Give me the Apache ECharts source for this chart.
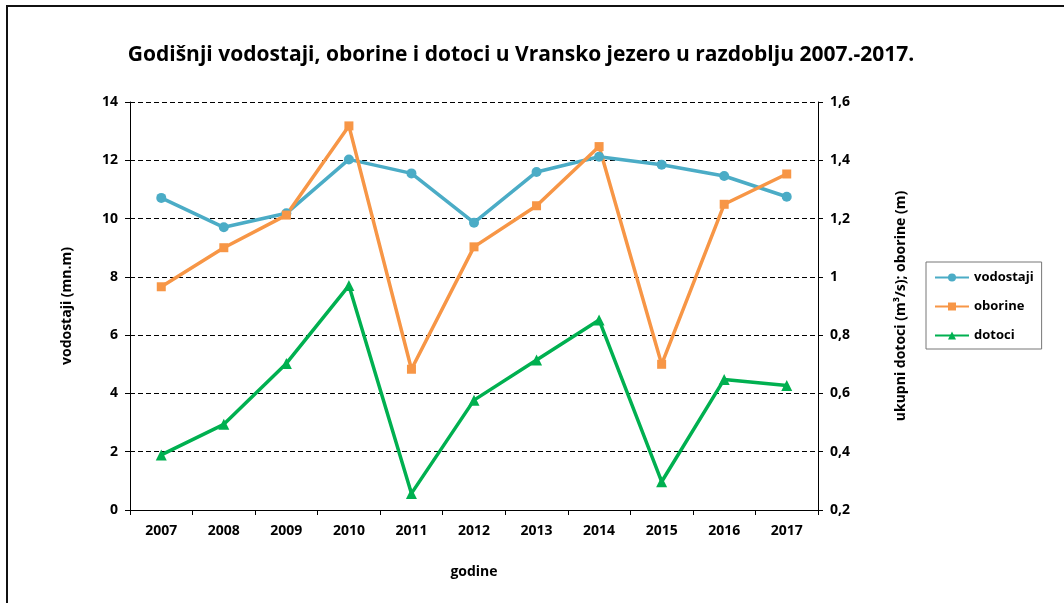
<!DOCTYPE html>
<html>
<head>
<meta charset="utf-8">
<script src="https://cdn.jsdelivr.net/npm/echarts@6/dist/echarts.min.js"></script>
<style>
  html, body { margin: 0; padding: 0; background: #fff; overflow: hidden; }
  #frame { position: absolute; left: 6px; top: 5px; width: 1200px; height: 800px; border: 2px solid #111; }
  #chart { position: absolute; left: 0; top: 0; width: 1064px; height: 603px; }
</style>
</head>
<body>
<div id="frame"></div>
<div id="chart"></div>
<script>
const years = ["2007", "2008", "2009", "2010", "2011", "2012", "2013", "2014", "2015", "2016", "2017"];
const vodostaji = [10.71, 9.70, 10.18, 12.03, 11.55, 9.86, 11.60, 12.12, 11.85, 11.46, 10.75];
const oborine = [0.966, 1.10, 1.212, 1.518, 0.683, 1.103, 1.244, 1.447, 0.70, 1.249, 1.353];
const dotoci = [0.389, 0.494, 0.703, 0.970, 0.257, 0.577, 0.715, 0.852, 0.297, 0.648, 0.627];

const font = "'Open Sans', 'Liberation Sans', sans-serif";
const axisText = { color: "#000", fontSize: 14, fontWeight: "bold", fontFamily: font };

const chart = echarts.init(document.getElementById("chart"), null, { renderer: "canvas" });
chart.setOption({
  animation: false,
  title: {
    text: "Godišnji vodostaji, oborine i dotoci u Vransko jezero u razdoblju 2007.-2017.",
    left: 516,
    textAlign: "center",
    top: 40,
    textStyle: { color: "#000", fontSize: 21, fontWeight: "bold", fontFamily: font },
  },
  legend: {
    orient: "vertical",
    left: 926,
    top: 262,
    padding: [9, 8, 7, 8],
    itemGap: 16,
    itemWidth: 34,
    itemHeight: 10,
    borderColor: "#777",
    borderWidth: 1,
    textStyle: { color: "#000", fontSize: 13, fontWeight: "bold", fontFamily: font },
    data: ["vodostaji", "oborine", "dotoci"],
  },
  grid: { left: 130, right: 246, top: 102, bottom: 93 },
  xAxis: {
    type: "category",
    data: years,
    name: "godine",
    nameLocation: "middle",
    nameGap: 55,
    nameTextStyle: axisText,
    axisLine: { lineStyle: { color: "#000", width: 1 } },
    axisTick: { show: true, length: 5, lineStyle: { color: "#000" } },
    axisLabel: { ...axisText, margin: 14 },
  },
  yAxis: [
    {
      type: "value",
      min: 0,
      max: 14,
      interval: 2,
      name: "vodostaji (mn.m)",
      nameLocation: "middle",
      nameGap: 56,
      nameTextStyle: axisText,
      axisLine: { show: true, lineStyle: { color: "#000", width: 1 } },
      axisTick: { show: true, length: 5, lineStyle: { color: "#000" } },
      axisLabel: { ...axisText, margin: 12 },
      splitLine: { lineStyle: { color: "#000", type: [5, 3], width: 1.2 } },
    },
    {
      type: "value",
      min: 0.2,
      max: 1.6,
      interval: 0.2,
      position: "right",
      name: "ukupni dotoci (m³/s); oborine (m)",
      nameLocation: "middle",
      nameGap: 76,
      nameRotate: 90,
      nameTextStyle: axisText,
      axisLine: { show: true, lineStyle: { color: "#000", width: 1 } },
      axisTick: { show: true, length: 5, lineStyle: { color: "#000" } },
      axisLabel: {
        ...axisText,
        margin: 12,
        formatter: (v) => String(parseFloat(v.toFixed(1))).replace(".", ","),
      },
      splitLine: { show: false },
    },
  ],
  series: [
    {
      name: "vodostaji",
      type: "line",
      yAxisIndex: 0,
      data: vodostaji,
      symbol: "circle",
      symbolSize: 10,
      lineStyle: { width: 3.5, color: "#4BACC6" },
      itemStyle: { color: "#4BACC6" },
    },
    {
      name: "oborine",
      type: "line",
      yAxisIndex: 1,
      data: oborine,
      symbol: "rect",
      symbolSize: 9,
      lineStyle: { width: 3.5, color: "#F79646" },
      itemStyle: { color: "#F79646" },
    },
    {
      name: "dotoci",
      type: "line",
      yAxisIndex: 1,
      data: dotoci,
      symbol: "triangle",
      symbolSize: 11,
      lineStyle: { width: 3.5, color: "#00B050" },
      itemStyle: { color: "#00B050" },
    },
  ],
});
</script>
</body>
</html>
